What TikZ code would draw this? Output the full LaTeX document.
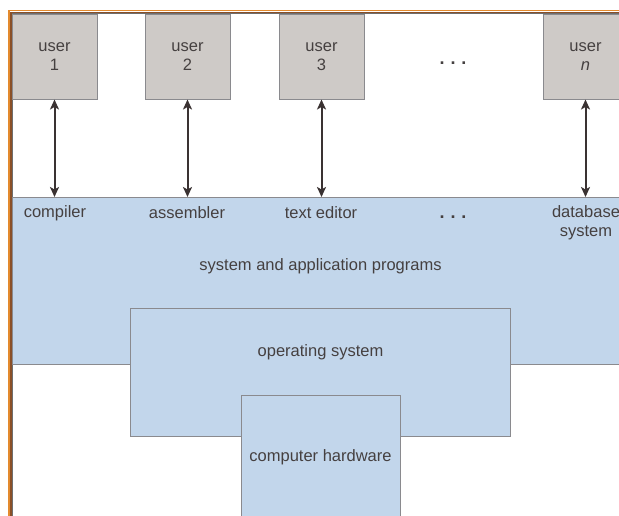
\documentclass[tikz,border=0pt]{standalone}
\usepackage{fontspec}
\setmainfont{Liberation Sans}
\usetikzlibrary{arrows.meta}
\definecolor{layerblue}{HTML}{C2D6EB}
\definecolor{usergrey}{HTML}{CECAC7}
\definecolor{edgegrey}{HTML}{8A8A8E}
\definecolor{inkgrey}{HTML}{454040}
\definecolor{arrowink}{HTML}{3A3232}
\definecolor{frameorange}{HTML}{E38A2E}
\definecolor{framebrown}{HTML}{8A5028}
\definecolor{framegrey}{HTML}{6E6E6E}
\tikzset{
  lbl/.style={text=inkgrey, font=\fontsize{16.5pt}{19pt}\selectfont, align=center, inner sep=0pt},
  dotrow/.style={lbl, font=\fontsize{18pt}{19pt}\selectfont\bfseries},
  userbox/.style={lbl, draw=edgegrey, line width=1pt, fill=usergrey,
    minimum width=85pt, minimum height=85pt},
  layer/.style={draw=edgegrey, line width=1pt, fill=layerblue, anchor=north west, inner sep=0pt},
  link/.style={draw=arrowink, line width=2pt,
    {Stealth[length=10pt,width=9pt,inset=2.5pt]}-{Stealth[length=10pt,width=9pt,inset=2.5pt]}},
}
\begin{document}
\begin{tikzpicture}[x=1pt,y=-1pt]
\useasboundingbox (0,0) rectangle (619,515);
\clip (0,0) rectangle (619,515);
\fill[white] (0,0) rectangle (619,515);

% page frame: orange rule with a brown and a grey rule inside
\draw[frameorange, line width=1.6pt] (8.8,530) -- (8.8,10.3) -- (640,10.3);
\draw[framebrown, line width=1.1pt] (11,530) -- (11,12.4) -- (640,12.4);
\draw[framegrey, line width=0.8pt] (12.2,530) -- (12.2,13.5) -- (640,13.5);

% user boxes
\node[userbox] (u1) at (54.5,56.5) {user\\1};
\node[userbox] (u2) at (187.5,56.5) {user\\2};
\node[userbox] (u3) at (321.5,56.5) {user\\3};
\node[userbox] (un) at (585.5,56.5) {user\\\itshape n};
\node[dotrow] (udots) at (453,63) {.\,\,.\,\,.};

% layered system: programs, operating system, hardware
\node[layer, minimum width=640pt, minimum height=167pt] (apps) at (12,197) {};
\node[layer, minimum width=380pt, minimum height=128pt] (os) at (130,308) {};
\node[layer, minimum width=159pt, minimum height=140pt] (hw) at (241,395) {};

% program labels along the top of the programs layer
\node[lbl] (compiler) at (55,213) {compiler};
\node[lbl] (assembler) at (187,213) {assembler};
\node[lbl] (editor) at (321,213) {text editor};
\node[dotrow] (pdots) at (453,217.5) {.\,\,.\,\,.};
\node[lbl] (dbs) at (586,222.5) {database\\system};

\node[lbl] (appslbl) at (320.5,266) {system and application programs};
\node[lbl] (oslbl) at (320.5,352) {operating system};
\node[lbl] (hwlbl) at (320.5,457) {computer hardware};

% user-to-program connectors
\coordinate (a1) at (u1.south |- apps.north);
\coordinate (a2) at (u2.south |- apps.north);
\coordinate (a3) at (u3.south |- apps.north);
\coordinate (an) at (un.south |- apps.north);
\draw[link] (u1.south) -- (a1);
\draw[link] (u2.south) -- (a2);
\draw[link] (u3.south) -- (a3);
\draw[link] (un.south) -- (an);
\end{tikzpicture}
\end{document}
